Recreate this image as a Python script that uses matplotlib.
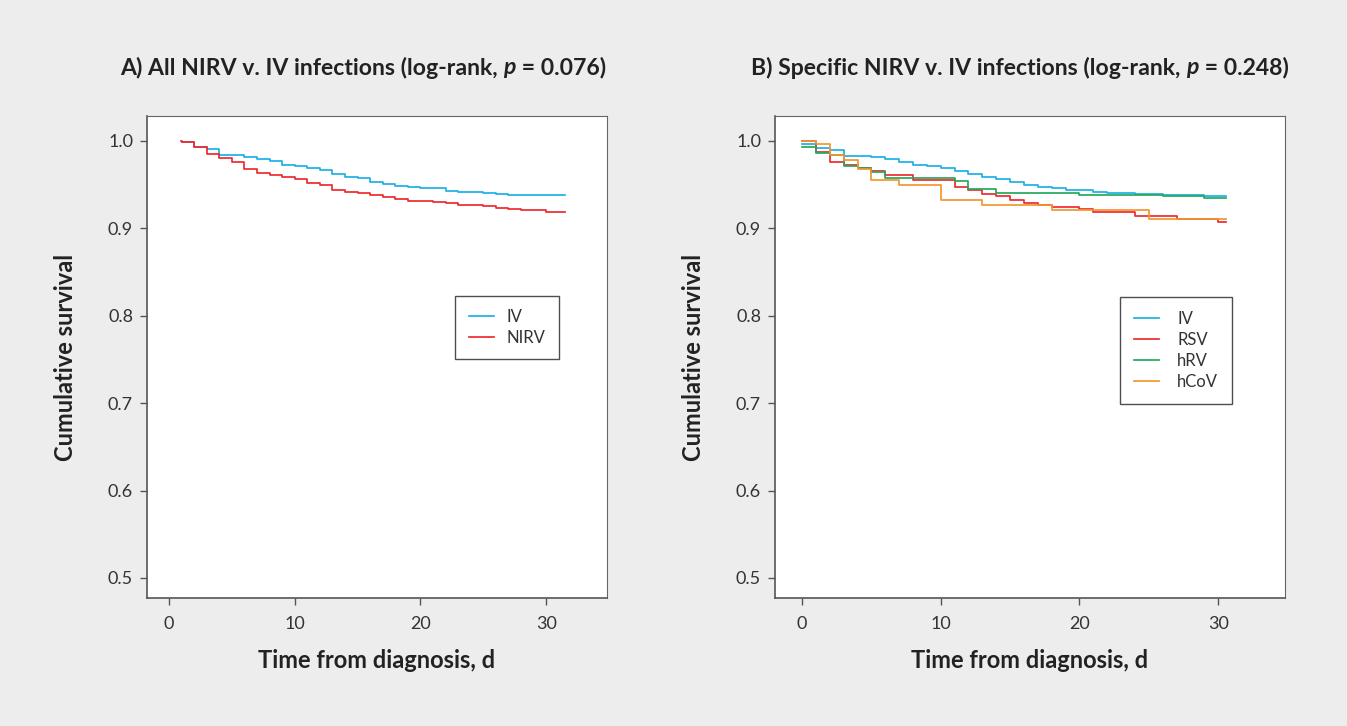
import matplotlib
matplotlib.use('Agg')
import matplotlib.pyplot as plt
from matplotlib import font_manager

# panel A: all NIRV vs IV (Kaplan-Meier step values)
a_iv_t = [1, 2, 3, 4, 6, 7, 8, 9, 10, 11, 12, 13, 14, 15, 16, 17, 18, 19, 20, 22, 23, 25, 26, 27, 31.5]
a_iv_s = [0.9985, 0.9935, 0.9908, 0.9839, 0.982, 0.9792, 0.9773, 0.9731, 0.9715, 0.9696, 0.9669, 0.9623,
          0.9589, 0.9573, 0.9535, 0.9508, 0.9489, 0.9469, 0.9458, 0.9431, 0.942, 0.9404, 0.9393, 0.9381, 0.9381]
a_nirv_t = [0.95, 1, 2, 3, 4, 5, 6, 7, 8, 9, 10, 11, 12, 13, 14, 15, 16, 17, 18, 19, 21, 22, 23, 25, 26, 27,
            28, 30, 31.5]
a_nirv_s = [1.0, 0.9992, 0.9935, 0.985, 0.98, 0.9754, 0.9677, 0.9639, 0.9612, 0.9585, 0.9562, 0.9523, 0.9496,
            0.9435, 0.942, 0.94, 0.9381, 0.9358, 0.9339, 0.9312, 0.9304, 0.9289, 0.9266, 0.9254, 0.9235, 0.9223,
            0.9212, 0.9193, 0.9193]

# panel B: specific viruses vs IV
b_iv_t = [0, 1, 2, 3, 5, 6, 7, 8, 9, 10, 11, 12, 13, 14, 15, 16, 17, 18, 19, 21, 22, 24, 26, 29, 30.6]
b_iv_s = [0.9966, 0.992, 0.990, 0.9824, 0.9812, 0.9789, 0.9759, 0.9728, 0.9709, 0.969, 0.9659, 0.9624, 0.959,
          0.9567, 0.9529, 0.9498, 0.9479, 0.946, 0.9444, 0.9421, 0.9402, 0.9395, 0.9379, 0.9368, 0.9368]
b_rsv_t = [0, 1, 2, 3, 4, 5, 6, 8, 11, 12, 13, 14, 15, 16, 17, 18, 20, 21, 24, 27, 30, 30.6]
b_rsv_s = [1.0, 0.987, 0.9759, 0.9728, 0.969, 0.9651, 0.9613, 0.9552, 0.9475, 0.9437, 0.939, 0.9368, 0.933,
           0.9287, 0.9262, 0.925, 0.9222, 0.919, 0.914, 0.911, 0.9073, 0.9073]
b_hrv_t = [0, 1, 2, 3, 4, 5, 6, 11, 12, 14, 20, 26, 29, 30.6]
b_hrv_s = [0.9935, 0.9862, 0.9835, 0.9716, 0.9693, 0.964, 0.9575, 0.9544, 0.9448, 0.941, 0.9387, 0.9376,
           0.9349, 0.9349]
b_hcov_t = [0, 1, 2, 3, 4, 5, 7, 10, 13, 18, 25, 30.6]
b_hcov_s = [1.0, 0.9966, 0.9843, 0.9785, 0.9682, 0.9556, 0.9498, 0.9322, 0.9268, 0.921, 0.9107, 0.9107]

c_iv = '#1cb0e6'
c_red = '#ee2a2e'
c_green = '#25a85e'
c_orange = '#f2962e'
bg = '#ededed'
txt = '#222222'

# pick a family that really has a bold face
fam = 'DejaVu Sans'
for f in ['Lato', 'Open Sans', 'Noto Sans', 'Liberation Sans']:
        try:
                p = font_manager.findfont(font_manager.FontProperties(family=f, weight='bold'),
                                          fallback_to_default=False)
                if 'bold' in p.lower() or 'heavy' in p.lower() or 'black' in p.lower():
                        fam = f
                        break
        except Exception:
                pass
plt.rcParams['font.family'] = [fam, 'DejaVu Sans']

fig = plt.figure(figsize=(13.47, 7.26), dpi=100, facecolor=bg)
W, H = 1347.0, 726.0

axA = fig.add_axes([147 / W, (H - 598) / H, 460 / W, 482 / H])
axB = fig.add_axes([775 / W, (H - 598) / H, 510 / W, 482 / H])


def style_axis(ax, xlim):
        ax.set_facecolor('white')
        ax.set_xlim(*xlim)
        ax.set_ylim(0.4771, 1.0286)
        ax.set_xticks([0, 10, 20, 30])
        ax.set_yticks([0.5, 0.6, 0.7, 0.8, 0.9, 1.0])
        ax.set_yticklabels(['0.5', '0.6', '0.7', '0.8', '0.9', '1.0'])
        ax.tick_params(direction='out', length=5, width=1, color='#555555', labelsize=13,
                       labelcolor='#333333', pad=5)
        ax.tick_params(axis='x', pad=8)
        for s in ['left', 'bottom']:
                ax.spines[s].set_color('#555555')
                ax.spines[s].set_linewidth(1.2)
        for s in ['top', 'right']:
                ax.spines[s].set_color('#666666')
                ax.spines[s].set_linewidth(0.8)
        ax.set_xlabel('Time from diagnosis, d', fontsize=17, fontweight='bold', color=txt, labelpad=12)
        ax.set_ylabel('Cumulative survival', fontsize=17, fontweight='bold', color=txt, labelpad=22)


style_axis(axA, (-1.75, 34.84))
style_axis(axB, (-1.95, 34.82))

lw = 1.25
axA.step(a_iv_t, a_iv_s, where='post', color=c_iv, lw=lw, label='IV')
axA.step(a_nirv_t, a_nirv_s, where='post', color=c_red, lw=lw, label='NIRV')

axB.step(b_iv_t, b_iv_s, where='post', color=c_iv, lw=lw, label='IV')
axB.step(b_rsv_t, b_rsv_s, where='post', color=c_red, lw=lw, label='RSV')
axB.step(b_hrv_t, b_hrv_s, where='post', color=c_green, lw=lw, label='hRV')
axB.step(b_hcov_t, b_hcov_s, where='post', color=c_orange, lw=lw, label='hCoV')

leg_opts = [(axA, (0.67, 0.627), 0.8, 0.8), (axB, (0.676, 0.625), 1.1, 0.85)]
for ax, anchor, htp, bp in leg_opts:
        leg = ax.legend(loc='upper left', bbox_to_anchor=anchor, fontsize=12, frameon=True, fancybox=False,
                        handlelength=1.5, handletextpad=htp, borderpad=bp, labelspacing=0.3,
                        borderaxespad=0)
        leg.get_frame().set_edgecolor('#222222')
        leg.get_frame().set_linewidth(1.0)
        for t in leg.get_texts():
                t.set_color('#333333')


def title_parts(xc, yc, pre, post):
        # draw title with an italic bold "p" in the middle, centred on xc
        r = fig.canvas.get_renderer()
        kw = dict(fontsize=16.6, fontweight='bold', color=txt, va='center')
        t1 = fig.text(0, 0, pre, **kw)
        t2 = fig.text(0, 0, 'p', style='italic', **kw)
        t3 = fig.text(0, 0, post, **kw)
        w1 = t1.get_window_extent(r).width
        w2 = t2.get_window_extent(r).width
        w3 = t3.get_window_extent(r).width
        x0 = xc - (w1 + w2 + w3) / 2
        y = 1 - yc / H
        t1.set_position((x0 / W, y))
        t2.set_position(((x0 + w1) / W, y))
        t3.set_position(((x0 + w1 + w2) / W, y))


title_parts(363, 68, 'A) All NIRV v. IV infections (log-rank, ', ' = 0.076)')
title_parts(1020, 68, 'B) Specific NIRV v. IV infections (log-rank, ', ' = 0.248)')

fig.savefig('out.png', dpi=100, facecolor=bg)
